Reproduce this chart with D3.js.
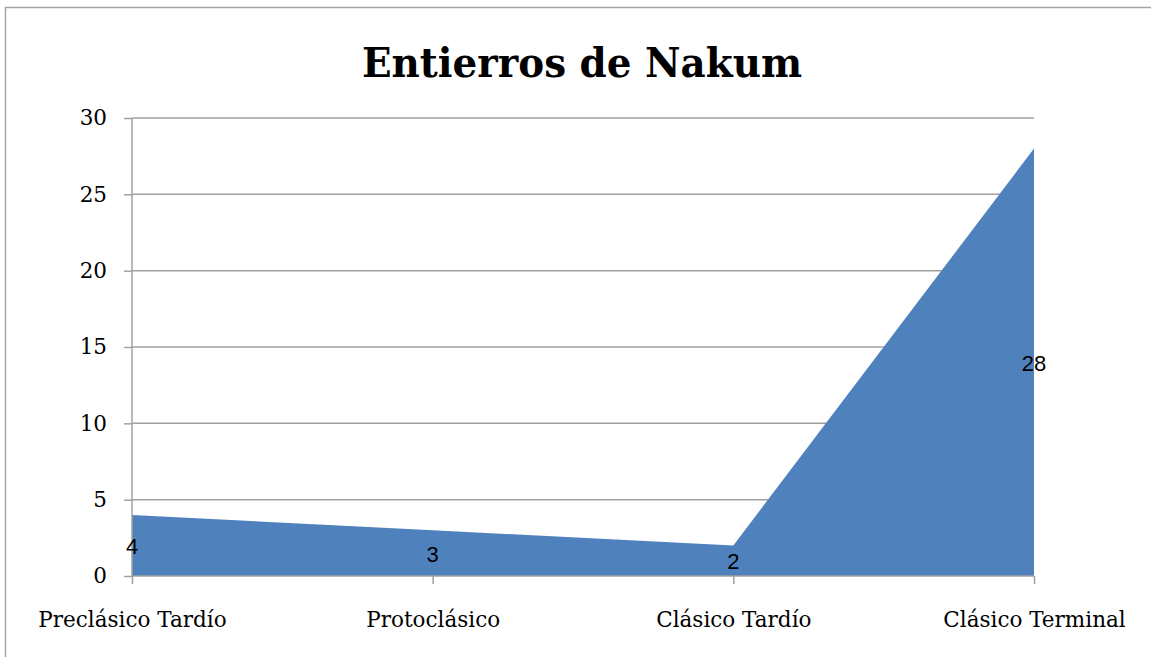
<!DOCTYPE html>
<html><head><meta charset="utf-8">
<script src="https://cdn.jsdelivr.net/npm/d3@7"></script>
<style>body{margin:0;background:#fff}svg{display:block}</style>
</head><body>
<svg id="c" width="1151" height="657"></svg>
<script>
const title = "Entierros de Nakum";
const categories = ["Preclásico Tardío", "Protoclásico", "Clásico Tardío", "Clásico Terminal"];
const values = [4, 3, 2, 28];
const yTicks = [0, 5, 10, 15, 20, 25, 30];

const svg = d3.select("#c");
const W = 1151, H = 657;
const m = {left: 132, right: 1034, top: 118, bottom: 576};

svg.append("rect").attr("width", W).attr("height", H).attr("fill", "#fff");
svg.append("rect").attr("x", 5.5).attr("y", 7.5).attr("width", W + 10).attr("height", H + 10)
  .attr("fill", "none").attr("stroke", "#a6a6a6").attr("stroke-width", 1.5);

const x = d3.scalePoint().domain(categories).range([m.left, m.right]);
const y = d3.scaleLinear().domain([0, 30]).range([m.bottom, m.top]);

svg.append("g").selectAll("line").data(yTicks.filter(d => d > 0)).join("line")
  .attr("x1", m.left).attr("x2", m.right)
  .attr("y1", d => y(d)).attr("y2", d => y(d))
  .attr("stroke", "#a0a0a0").attr("stroke-width", 1.5);

const data = categories.map((c, i) => ({c, v: values[i]}));
svg.append("path").datum(data)
  .attr("d", d3.area().x(d => x(d.c)).y0(y(0)).y1(d => y(d.v)))
  .attr("fill", "#4f81bd");

const yAxis = svg.append("g").attr("transform", `translate(${m.left},0)`)
  .call(d3.axisLeft(y).tickValues(yTicks).tickSize(8).tickPadding(17));
yAxis.select(".domain").attr("stroke", "#a0a0a0").attr("stroke-width", 1.5).attr("d", `M0,${m.top}V${m.bottom}`);
yAxis.selectAll(".tick line").attr("stroke", "#a0a0a0").attr("stroke-width", 1.5);
yAxis.selectAll(".tick text").attr("font-family", "DejaVu Serif").attr("font-size", 21.5).attr("fill", "#000");

const xAxis = svg.append("g").attr("transform", `translate(0,${m.bottom})`)
  .call(d3.axisBottom(x).tickSize(8).tickPadding(28));
xAxis.select(".domain").attr("stroke", "#a0a0a0").attr("stroke-width", 1.5).attr("d", `M${m.left},0H${m.right}`);
xAxis.selectAll(".tick line").attr("stroke", "#a0a0a0").attr("stroke-width", 1.5);
xAxis.selectAll(".tick text").attr("font-family", "DejaVu Serif").attr("font-size", 21.5).attr("fill", "#000");

svg.append("g").selectAll("text").data(data).join("text")
  .attr("x", d => x(d.c)).attr("y", d => y(d.v / 2) + 1)
  .attr("text-anchor", "middle").attr("dominant-baseline", "central")
  .attr("font-family", "Liberation Sans, Arial, sans-serif").attr("font-size", 22).attr("fill", "#000")
  .text(d => d.v);

svg.append("text").attr("x", 582).attr("y", 77).attr("text-anchor", "middle")
  .attr("font-family", "DejaVu Serif").attr("font-weight", "bold").attr("font-size", 41)
  .attr("textLength", 440).attr("lengthAdjust", "spacingAndGlyphs")
  .text(title);
</script>
</body></html>
